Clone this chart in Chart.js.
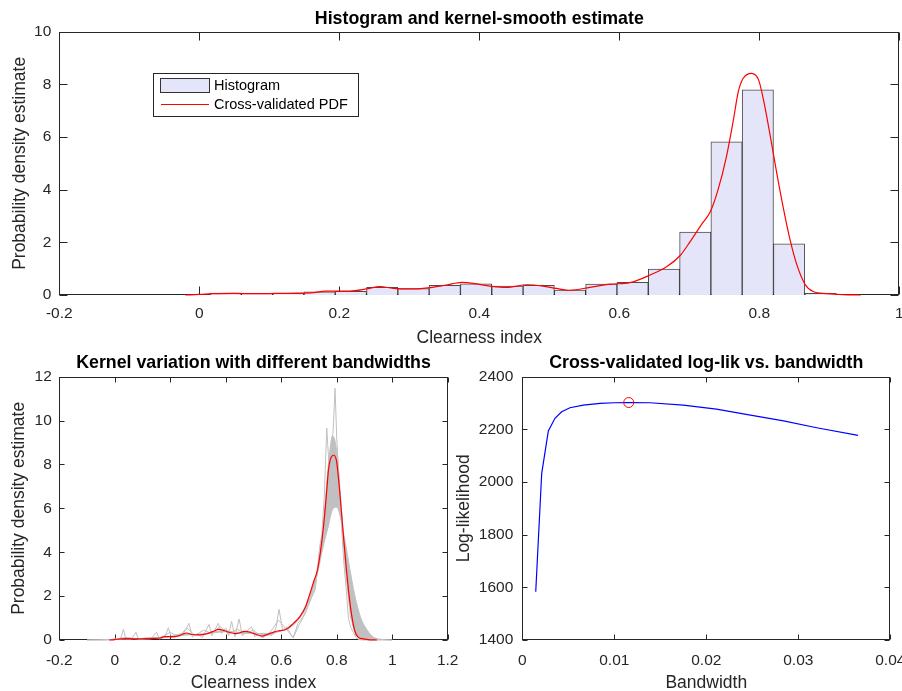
<!DOCTYPE html>
<html>
<head>
<meta charset="utf-8">
<script src="https://cdn.jsdelivr.net/npm/chart.js@4.4.0/dist/chart.umd.min.js"></script>
<style>
  html, body { margin: 0; padding: 0; background: #fff; overflow: hidden; }
  .panel { position: absolute; }
</style>
</head>
<body>
<div class="panel" style="left:0;top:0;width:902px;height:350px"><canvas id="histChart"></canvas></div>
<div class="panel" style="left:0;top:345px;width:470px;height:350px"><canvas id="kernelChart"></canvas></div>
<div class="panel" style="left:451px;top:345px;width:451px;height:350px"><canvas id="llChart"></canvas></div>
<script>
const FONT = "'Liberation Sans', Arial, Helvetica, sans-serif";
const AXIS = '#262626';

// histogram (20 bins of clearness index)
const binCenters = [0.0377, 0.0824, 0.1271, 0.1718, 0.2165, 0.2613, 0.3060, 0.3507, 0.3954, 0.4402,
                    0.4849, 0.5296, 0.5743, 0.6190, 0.6638, 0.7085, 0.7532, 0.7979, 0.8426, 0.8874];
const binHeights = [0.07, 0.06, 0.06, 0.12, 0.14, 0.29, 0.24, 0.37, 0.42, 0.34,
                    0.37, 0.19, 0.41, 0.48, 0.98, 2.39, 5.82, 7.79, 1.94, 0.06];

// cross-validated kernel pdf
const kdeX = [-0.02, 0.0, 0.02, 0.05, 0.08, 0.11, 0.14, 0.163, 0.18, 0.196, 0.215, 0.239, 0.258, 0.277, 0.306,
              0.33, 0.353, 0.375, 0.396, 0.418, 0.439, 0.468, 0.491, 0.51, 0.53, 0.558, 0.587, 0.615, 0.644,
              0.668, 0.687, 0.701, 0.718, 0.73, 0.741, 0.753, 0.763, 0.770, 0.777, 0.789, 0.799, 0.806, 0.815,
              0.825, 0.834, 0.844, 0.853, 0.865, 0.877, 0.896, 0.92, 0.945];
const kdeY = [0, 0.02, 0.05, 0.06, 0.05, 0.06, 0.07, 0.09, 0.15, 0.15, 0.15, 0.23, 0.32, 0.25, 0.23,
              0.28, 0.38, 0.48, 0.42, 0.33, 0.29, 0.39, 0.34, 0.25, 0.18, 0.29, 0.41, 0.47, 0.76,
              1.08, 1.5, 2.02, 2.7, 3.16, 3.99, 5.25, 6.65, 7.72, 8.23, 8.42, 8.17, 7.41, 6.14,
              4.62, 3.35, 2.09, 1.2, 0.42, 0.13, 0.05, 0.01, 0];

// kernels with other bandwidths (gray)
const gX = [-0.1, -0.05, 0, 0.05, 0.1, 0.15, 0.2, 0.25, 0.3, 0.35, 0.4, 0.45, 0.5, 0.55, 0.6, 0.63, 0.66,
            0.69, 0.71, 0.73, 0.75, 0.77, 0.785, 0.8, 0.815, 0.83, 0.845, 0.86, 0.875, 0.89, 0.91, 0.93, 0.96, 1.0];
const grayWide = [0, 0.01, 0.03, 0.05, 0.07, 0.1, 0.15, 0.22, 0.26, 0.32, 0.38, 0.35, 0.3, 0.3, 0.42, 0.6, 0.95,
                  1.55, 2.1, 3.0, 4.2, 5.2, 5.95, 6.05, 5.5, 4.5, 3.4, 2.35, 1.5, 0.9, 0.45, 0.15, 0.03, 0];
const grayMid = [0, 0, 0.03, 0.08, 0.05, 0.08, 0.16, 0.3, 0.22, 0.36, 0.42, 0.3, 0.32, 0.22, 0.44, 0.55, 0.9,
                 1.5, 2.3, 3.2, 5.0, 8.0, 9.3, 8.6, 6.3, 3.8, 1.8, 0.6, 0.15, 0.03, 0, 0, 0, 0];
const narrowX = [-0.02, 0.0, 0.02, 0.031, 0.04, 0.06, 0.076, 0.085, 0.11, 0.13, 0.151, 0.16, 0.18, 0.193, 0.205,
                 0.22, 0.24, 0.255, 0.267, 0.28, 0.3, 0.315, 0.325, 0.34, 0.35, 0.362, 0.373, 0.385, 0.4, 0.41,
                 0.421, 0.433, 0.448, 0.46, 0.475, 0.493, 0.505, 0.52, 0.535, 0.55, 0.565, 0.58, 0.592, 0.605,
                 0.62, 0.633, 0.643, 0.66, 0.68, 0.7, 0.715, 0.722, 0.73, 0.738, 0.746, 0.755, 0.764, 0.772,
                 0.78, 0.787, 0.794, 0.8, 0.808, 0.816, 0.825, 0.835, 0.842, 0.85, 0.86, 0.87, 0.88, 0.9];
const narrowY = [0, 0.05, 0.02, 0.49, 0.05, 0.04, 0.35, 0.03, 0.05, 0.06, 0.35, 0.05, 0.12, 0.56, 0.1,
                 0.15, 0.2, 0.45, 0.76, 0.15, 0.3, 0.1, 0.35, 0.71, 0.2, 0.5, 0.76, 0.3, 0.55, 0.2,
                 0.85, 0.15, 0.96, 0.2, 0.4, 0.6, 0.15, 0.3, 0.1, 0.3, 0.2, 0.5, 1.4, 0.45,
                 0.6, 0.3, 0.1, 0.75, 1.1, 1.7, 2.1, 2.28, 3.1, 4.2, 4.8, 6.5, 9.65, 8.0,
                 8.8, 9.5, 11.47, 9.2, 7.4, 5.5, 3.6, 2.2, 0.99, 0.6, 0.35, 0.1, 0.02, 0];
const noisyX = [-0.05, 0, 0.04, 0.08, 0.12, 0.16, 0.2, 0.23, 0.26, 0.29, 0.32, 0.35, 0.38, 0.41, 0.44, 0.47,
                0.5, 0.53, 0.56, 0.59, 0.615, 0.643, 0.665, 0.69, 0.72, 0.75, 0.77, 0.79, 0.81, 0.83, 0.85, 0.87, 0.9];
const noisyY = [0, 0.03, 0.12, 0.05, 0.1, 0.08, 0.35, 0.15, 0.55, 0.2, 0.45, 0.3, 0.62, 0.25, 0.5, 0.3,
                0.45, 0.12, 0.35, 0.9, 0.55, 0.1, 0.7, 1.3, 2.3, 4.6, 7.6, 9.2, 7.0, 3.4, 1.0, 0.2, 0];

// cross-validated log-likelihood
const bandwidth = [0.00146, 0.00211, 0.00283, 0.00355, 0.00428, 0.00518, 0.00663, 0.00845, 0.0100,
                   0.01157, 0.01388, 0.0175, 0.0211, 0.0248, 0.0284, 0.032, 0.0365];
const logLik = [1583, 2033, 2194, 2242, 2267, 2282, 2292, 2299, 2301,
                2302, 2301, 2292, 2277, 2254, 2232, 2206, 2177];
const bestBw = [0.01157];
const bestLL = [2302];

const pts = (xs, ys) => xs.map((x, i) => ({ x: x, y: ys[i] }));
const fmtTick = v => String(+Number(v).toFixed(4));

// box round the axes with inward ticks, like matlab
const boxPlugin = {
  id: 'boxPlugin',
  beforeDatasetsDraw(chart, args, opts) {
    const { ctx, chartArea: a, scales } = chart;
    const len = opts.tickLen || 6;
    const L = Math.round(a.left) + 0.5, R = Math.round(a.right) - 0.5;
    const T = Math.round(a.top) + 0.5, B = Math.round(a.bottom) - 0.5;
    ctx.save();
    ctx.strokeStyle = AXIS;
    ctx.lineWidth = 1;
    ctx.beginPath();
    scales.x.ticks.forEach(t => {
      const px = Math.round(scales.x.getPixelForValue(t.value)) + 0.5;
      ctx.moveTo(px, B); ctx.lineTo(px, B - len);
      ctx.moveTo(px, T); ctx.lineTo(px, T + len);
    });
    scales.y.ticks.forEach(t => {
      const py = Math.round(scales.y.getPixelForValue(t.value)) + 0.5;
      ctx.moveTo(L, py); ctx.lineTo(L + len, py);
      ctx.moveTo(R, py); ctx.lineTo(R - len, py);
    });
    ctx.stroke();
    ctx.strokeRect(L, T, R - L, B - T);
    ctx.restore();
  }
};

// legend box of the top panel
const legendPlugin = {
  id: 'legendBox',
  afterDraw(chart) {
    const ctx = chart.ctx;
    ctx.save();
    ctx.fillStyle = '#fff';
    ctx.fillRect(153.5, 73.5, 205, 43);
    ctx.strokeStyle = AXIS;
    ctx.lineWidth = 1;
    ctx.strokeRect(153.5, 73.5, 205, 43);
    ctx.fillStyle = 'rgb(229,229,250)';
    ctx.fillRect(160.5, 78.5, 49, 14);
    ctx.strokeStyle = '#333';
    ctx.strokeRect(160.5, 78.5, 49, 14);
    ctx.strokeStyle = 'red';
    ctx.beginPath(); ctx.moveTo(161, 104.5); ctx.lineTo(209, 104.5); ctx.stroke();
    ctx.fillStyle = '#000';
    ctx.font = '14.5px ' + FONT;
    ctx.textBaseline = 'middle';
    ctx.fillText(chart.data.datasets[1].label, 214, 86);
    ctx.fillText(chart.data.datasets[0].label, 214, 105);
    ctx.restore();
  }
};

function xAxis(min, max, step, label, tickPad) {
  return {
    type: 'linear', min: min, max: max, offset: false,
    grid: { display: false, drawTicks: false }, border: { display: false },
    ticks: { stepSize: step, padding: tickPad, color: AXIS, maxRotation: 0, autoSkip: false,
             font: { family: FONT, size: 15.5 }, callback: fmtTick },
    title: { display: true, text: label, color: AXIS,
             font: { family: FONT, size: 17.5, lineHeight: 1 }, padding: { top: 0, bottom: 3.5 } },
    afterFit: s => { s.height = 55; s.paddingLeft = 0; s.paddingRight = 0; }
  };
}

function yAxis(min, max, step, label, width, titlePad, tickPad) {
  return {
    type: 'linear', min: min, max: max,
    grid: { display: false, drawTicks: false }, border: { display: false },
    ticks: { stepSize: step, padding: tickPad, color: AXIS,
             font: { family: FONT, size: 15.5 }, callback: fmtTick },
    title: { display: true, text: label, color: AXIS,
             font: { family: FONT, size: 17.5, lineHeight: 1 }, padding: { top: titlePad, bottom: 0 } },
    afterFit: s => { s.width = width; s.paddingTop = 0; s.paddingBottom = 0; }
  };
}

function titleOpts(text, padTop) {
  return { display: true, text: text, fullSize: false, color: '#000',
           font: { family: FONT, size: 17.8, weight: 'bold', lineHeight: 1 },
           padding: { top: padTop, bottom: 31.7 - 17.8 - padTop } };
}

Chart.register(boxPlugin);

new Chart(document.getElementById('histChart'), {
  type: 'bar',
  data: {
    datasets: [{
      type: 'line', label: 'Cross-validated PDF', data: pts(kdeX, kdeY), order: 0,
      borderColor: 'red', borderWidth: 1.2, pointRadius: 0, cubicInterpolationMode: 'monotone', clip: 4
    }, {
      type: 'bar', label: 'Histogram', data: pts(binCenters, binHeights), order: 1,
      backgroundColor: 'rgb(229,229,250)', borderColor: 'rgba(30,30,30,0.8)', borderWidth: 1,
      barPercentage: 1, categoryPercentage: 1, grouped: false
    }]
  },
  options: {
    responsive: true, maintainAspectRatio: false, animation: false, events: [],
    layout: { padding: { left: 0, right: 2.7, top: 0, bottom: 0 } },
    scales: {
      x: xAxis(-0.2, 1, 0.2, 'Clearness index', 9.5),
      y: yAxis(0, 10, 2, 'Probability density estimate', 59.3, 11, 8)
    },
    plugins: {
      legend: { display: false }, tooltip: { enabled: false },
      title: titleOpts('Histogram and kernel-smooth estimate', 10.5),
      boxPlugin: { tickLen: 8 }
    }
  },
  plugins: [legendPlugin]
});

const gray = 'rgb(192,192,192)';
new Chart(document.getElementById('kernelChart'), {
  type: 'line',
  data: {
    datasets: [
      { label: 'cv', data: pts(kdeX, kdeY), order: 0, borderColor: 'red', borderWidth: 1.2,
        pointRadius: 0, cubicInterpolationMode: 'monotone', clip: 4 },
      { label: 'narrow', data: pts(narrowX, narrowY), order: 1, borderColor: gray, borderWidth: 1,
        pointRadius: 0, tension: 0, clip: 4 },
      { label: 'noisy', data: pts(noisyX, noisyY), order: 2, borderColor: gray, borderWidth: 1,
        pointRadius: 0, tension: 0, clip: 4 },
      { label: 'wide', data: pts(gX, grayWide), order: 3, borderColor: gray, borderWidth: 1,
        pointRadius: 0, cubicInterpolationMode: 'monotone', clip: 4 },
      { label: 'mid', data: pts(gX, grayMid), order: 4, borderColor: gray, borderWidth: 1,
        backgroundColor: gray, fill: 3, pointRadius: 0, cubicInterpolationMode: 'monotone', clip: 4 }
    ]
  },
  options: {
    responsive: true, maintainAspectRatio: false, animation: false, events: [],
    layout: { padding: { left: 0, right: 22.3, top: 0, bottom: 0 } },
    scales: {
      x: xAxis(-0.2, 1.2, 0.2, 'Clearness index', 11),
      y: yAxis(0, 12, 2, 'Probability density estimate', 59.3, 10, 7.5)
    },
    plugins: {
      legend: { display: false }, tooltip: { enabled: false },
      title: titleOpts('Kernel variation with different bandwidths', 9),
      boxPlugin: { tickLen: 5 }
    }
  }
});

new Chart(document.getElementById('llChart'), {
  type: 'line',
  data: {
    datasets: [
      { label: 'best', data: pts(bestBw, bestLL), order: 0, showLine: false,
        pointStyle: 'circle', pointRadius: 5, borderColor: 'red', borderWidth: 1,
        backgroundColor: 'rgba(0,0,0,0)' },
      { label: 'loglik', data: pts(bandwidth, logLik), order: 1, borderColor: 'blue',
        borderWidth: 1.2, pointRadius: 0, tension: 0 }
    ]
  },
  options: {
    responsive: true, maintainAspectRatio: false, animation: false, events: [],
    layout: { padding: { left: 0, right: 11.7, top: 0, bottom: 0 } },
    scales: {
      x: xAxis(0, 0.04, 0.01, 'Bandwidth', 11),
      y: yAxis(1400, 2400, 200, 'Log-likelihood', 71.3, 4, 9)
    },
    plugins: {
      legend: { display: false }, tooltip: { enabled: false },
      title: titleOpts('Cross-validated log-lik vs. bandwidth', 9),
      boxPlugin: { tickLen: 5 }
    }
  }
});
</script>
</body>
</html>
